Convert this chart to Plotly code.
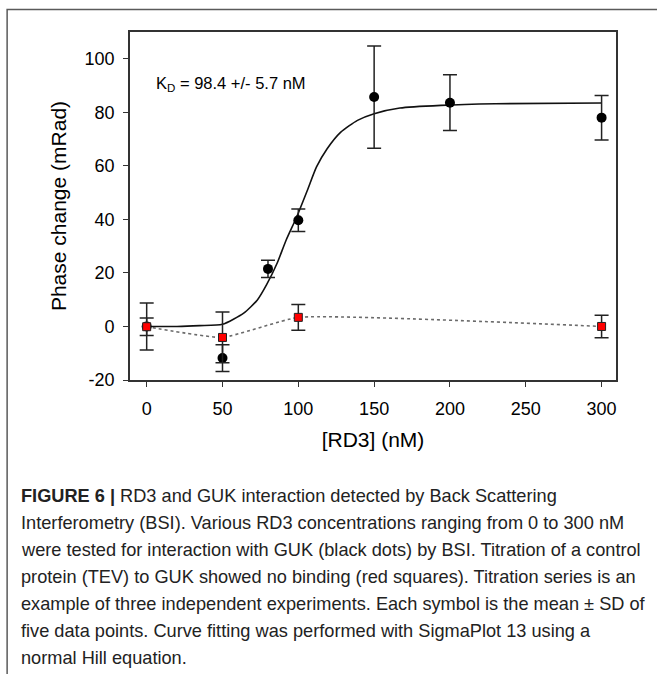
import plotly.graph_objects as go

# ---------------- data ----------------
guk_x = [0, 50, 80, 100, 150, 200, 300]
guk_y = [0.0, -11.8, 21.5, 39.7, 85.7, 83.6, 78.0]
guk_sd = [8.8, 5.0, 3.2, 4.2, 19.1, 10.4, 8.3]

tev_x = [0, 50, 100, 300]
tev_y = [-0.1, -4.1, 3.4, 0.0]
tev_sd = [3.3, 9.5, 4.8, 4.2]

fit_x = [0, 20, 35, 50, 64, 73, 79, 86, 92, 99, 106, 112, 119, 128, 139, 150, 167, 194, 230, 300]
fit_y = [0.0, 0.0, 0.3, 0.8, 5.0, 9.9, 15.5, 23.6, 32.3, 41.0, 50.9, 59.6, 66.4, 72.6, 77.0, 79.5, 81.6, 82.6, 83.2, 83.5]

x_ticks = [0, 50, 100, 150, 200, 250, 300]
x_tick_text = ["0", "50", "100", "150", "200", "250", "300"]
y_ticks = [-20, 0, 20, 40, 60, 80, 100]
y_tick_text = ["-20", "0", "20", "40", "60", "80", "100"]

kd_label = "K<sub>D</sub> = 98.4 +/- 5.7 nM"
x_title = "[RD3] (nM)"
y_title = "Phase change (mRad)"
caption_lines = [
    "<b>FIGURE 6 |</b> RD3 and GUK interaction detected by Back Scattering",
    "Interferometry (BSI). Various RD3 concentrations ranging from 0 to 300 nM",
    "were tested for interaction with GUK (black dots) by BSI. Titration of a control",
    "protein (TEV) to GUK showed no binding (red squares). Titration series is an",
    "example of three independent experiments. Each symbol is the mean ± SD of",
    "five data points. Curve fitting was performed with SigmaPlot 13 using a",
    "normal Hill equation.",
]

# ---------------- layout geometry ----------------
W, H = 657, 674
L, R, T, B = 130, 40.5, 31.5, 293.5
PW, PH = W - L - R, H - T - B


def px(xp):
    return (xp - L) / PW


def py(yp):
    return (H - B - yp) / PH


FONT = "Liberation Sans, Arial, sans-serif"
CAP_FONT = "Liberation Sans, Arial, sans-serif"

fig = go.Figure()

fig.add_trace(go.Scatter(
    x=tev_x, y=tev_y, mode="lines",
    line=dict(color="#6a6a6a", width=1.6, dash="dot", shape="spline", smoothing=0.4),
    hoverinfo="skip", showlegend=False))

fig.add_trace(go.Scatter(
    x=fit_x, y=fit_y, mode="lines",
    line=dict(color="#111111", width=1.6, shape="spline", smoothing=0.6),
    hoverinfo="skip", showlegend=False))

fig.add_trace(go.Scatter(
    x=guk_x, y=guk_y, mode="markers",
    marker=dict(symbol="circle", size=10, color="#000000"),
    error_y=dict(type="data", array=guk_sd, visible=True, color="#222222", thickness=1.5, width=7),
    showlegend=False))

fig.add_trace(go.Scatter(
    x=tev_x, y=tev_y, mode="markers",
    marker=dict(symbol="square", size=8, color="#ff0000", line=dict(color="#222222", width=1)),
    error_y=dict(type="data", array=tev_sd, visible=True, color="#222222", thickness=1.5, width=7),
    showlegend=False))

axis_common = dict(
    showline=True, linecolor="#333333", linewidth=1.6, mirror=True,
    ticks="outside", ticklen=5, tickwidth=1.4, tickcolor="#333333",
    showgrid=False, zeroline=False,
    tickfont=dict(family=FONT, size=18, color="#000000"),
)

fig.update_xaxes(
    range=[-11, 309.5], tickmode="array", tickvals=x_ticks, ticktext=x_tick_text, ticklabelstandoff=7,
    title=dict(text=x_title, font=dict(family=FONT, size=21, color="#000000"), standoff=14),
    **axis_common)
fig.update_yaxes(
    range=[-20, 110], tickmode="array", tickvals=y_ticks, ticktext=y_tick_text, ticklabelstandoff=5,
    title=dict(text=y_title, font=dict(family=FONT, size=21, color="#000000"), standoff=12),
    **axis_common)

annotations = [
    dict(x=5.0, y=90.5, xref="x", yref="y", text=kd_label, showarrow=False,
         xanchor="left", yanchor="middle", font=dict(family=FONT, size=16.5, color="#000000")),
]
cap_y0, cap_dy = 497, 27.1
for i, line in enumerate(caption_lines):
    annotations.append(dict(
        x=px(19), y=py(cap_y0 + i * cap_dy), xref="paper", yref="paper", text=line,
        showarrow=False, xanchor="left", yanchor="middle",
        font=dict(family=CAP_FONT, size=18.2, color="#222222")))

shapes = [dict(
    type="path", xref="paper", yref="paper",
    path=f"M {px(7)},{py(680)} L {px(7)},{py(9)} L {px(662)},{py(9)}",
    line=dict(color="#5a5a5a", width=1.5))]

fig.update_layout(
    width=W, height=H, margin=dict(l=L, r=R, t=T, b=B, pad=0),
    paper_bgcolor="white", plot_bgcolor="white",
    annotations=annotations, shapes=shapes, showlegend=False,
)

fig.write_html(
    "out.html",
    config={"displayModeBar": False},
    post_script="document.body.style.margin='0';document.body.style.padding='0';",
)
